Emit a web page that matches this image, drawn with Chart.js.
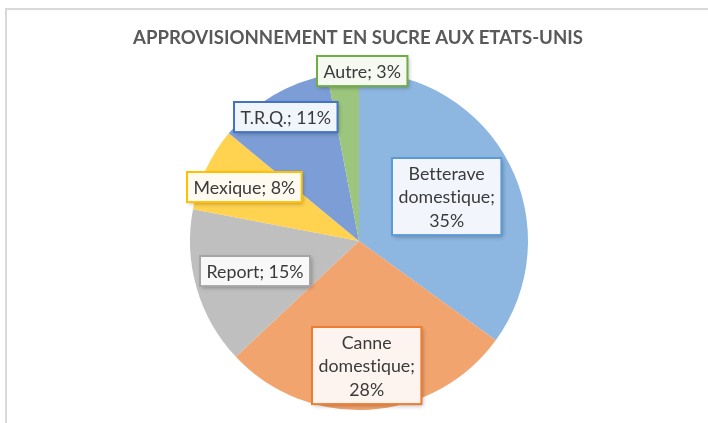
<!DOCTYPE html>
<html>
<head>
<meta charset="utf-8">
<script src="https://cdn.jsdelivr.net/npm/chart.js@4.4.1/dist/chart.umd.min.js"></script>
<style>
  html, body { margin: 0; padding: 0; background: #ffffff; }
  #wrap { width: 708px; height: 423px; position: relative; }
</style>
</head>
<body>
<div id="wrap"><canvas id="c"></canvas></div>
<script>
// ---- data ----
const titleText = 'APPROVISIONNEMENT EN SUCRE AUX ETATS-UNIS';
const categories = ['Betterave domestique', 'Canne domestique', 'Report', 'Mexique', 'T.R.Q.', 'Autre'];
const values = [35, 28, 15, 8, 11, 3];

// ---- styles ----
const sliceColors  = ['#8DB6E1', '#F2A46F', '#BFBFBF', '#FFD24F', '#7C9DD5', '#9CC67E'];
const borderColors = ['#5B9BD5', '#ED7D31', '#A5A5A5', '#FFC000', '#4472C4', '#70AD47'];
const boxFills     = ['#F2F6FC', '#FDF4EF', '#F8F8F8', '#FFFAEF', '#F0F4FB', '#F5F9F2'];
// label placement: fraction of radius along the slice's middle angle, extra x shift (px)
const labelDist  = [0.58, 0.74, 0.64, 0.75, 0.85, 1.01];
const labelShift = [0, 0, 0, 0, 0, 19];

const FONT = 'Lato, "Open Sans", "Noto Sans", sans-serif';

function wrapText(ctx, text, maxW) {
  const words = text.split(' ');
  const lines = [];
  let cur = '';
  for (const w of words) {
    const t = cur ? cur + ' ' + w : w;
    if (cur && ctx.measureText(t).width > maxW) { lines.push(cur); cur = w; }
    else cur = t;
  }
  if (cur) lines.push(cur);
  return lines;
}

function drawScaledText(ctx, text, x, y, sx) {
  ctx.save();
  ctx.translate(x, y);
  ctx.scale(sx, 1);
  ctx.fillText(text, 0, 0);
  ctx.restore();
}

const decor = {
  id: 'decor',
  beforeDraw(chart) {
    const ctx = chart.ctx;
    ctx.save();
    ctx.fillStyle = '#FFFFFF';
    ctx.fillRect(0, 0, chart.width, chart.height);
    ctx.fillStyle = '#D9D9D9';
    ctx.fillRect(5, 8, chart.width, 2);
    ctx.fillRect(5, 8, 2, chart.height);
    // title
    ctx.font = `bold 18.5px ${FONT}`;
    if ('letterSpacing' in ctx) ctx.letterSpacing = '0.01px';
    const sx = 450 / ctx.measureText(titleText).width;
    ctx.fillStyle = '#595959';
    ctx.textAlign = 'center';
    ctx.textBaseline = 'alphabetic';
    drawScaledText(ctx, titleText, 358, 44, sx);
    ctx.restore();
  },
  afterDatasetsDraw(chart) {
    const ctx = chart.ctx;
    const meta = chart.getDatasetMeta(0);
    ctx.save();
    ctx.font = `normal 18px ${FONT}`;
    if ('letterSpacing' in ctx) ctx.letterSpacing = '0.01px';
    const sx = 97 / ctx.measureText('Report; 15%').width;
    const lineH = 23.5, padX = 6.5, padY = 3.3;
    meta.data.forEach((arc, i) => {
      const p = arc.getProps(['x', 'y', 'startAngle', 'endAngle', 'outerRadius'], true);
      const mid = (p.startAngle + p.endAngle) / 2;
      const cx = p.x + Math.cos(mid) * p.outerRadius * labelDist[i] + labelShift[i];
      const cy = p.y + Math.sin(mid) * p.outerRadius * labelDist[i];
      const text = `${categories[i]}; ${values[i]}%`;
      const lines = wrapText(ctx, text, 112 / sx);
      const tw = Math.max(...lines.map(l => ctx.measureText(l).width)) * sx;
      const w = tw + padX * 2, h = lines.length * lineH + padY * 2;
      const x0 = Math.round(cx - w / 2), y0 = Math.round(cy - h / 2);
      ctx.save();
      ctx.shadowColor = 'rgba(0,0,0,0.28)';
      ctx.shadowBlur = 4;
      ctx.shadowOffsetX = 1.5;
      ctx.shadowOffsetY = 2;
      ctx.fillStyle = boxFills[i];
      ctx.fillRect(x0, y0, w, h);
      ctx.restore();
      ctx.strokeStyle = borderColors[i];
      ctx.lineWidth = 2;
      ctx.strokeRect(x0, y0, w, h);
      ctx.fillStyle = '#3A3A3A';
      ctx.textAlign = 'center';
      ctx.textBaseline = 'middle';
      lines.forEach((l, k) => {
        drawScaledText(ctx, l, x0 + w / 2, y0 + padY + lineH * (k + 0.5) + 1, sx);
      });
    });
    ctx.restore();
  }
};

new Chart(document.getElementById('c'), {
  type: 'pie',
  data: {
    labels: categories,
    datasets: [{
      data: values,
      backgroundColor: sliceColors,
      borderWidth: 0
    }]
  },
  options: {
    responsive: true,
    maintainAspectRatio: false,
    devicePixelRatio: 1,
    animation: false,
    layout: { padding: { top: 72, bottom: 13, left: 190, right: 180 } },
    plugins: {
      legend: { display: false },
      tooltip: { enabled: false },
      title: { display: false }
    }
  },
  plugins: [decor]
});
</script>
</body>
</html>
